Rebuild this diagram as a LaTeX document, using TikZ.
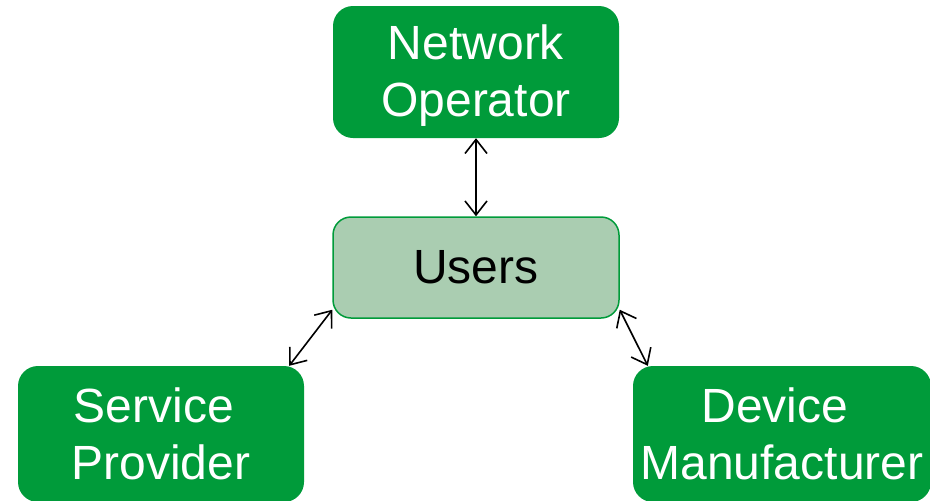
\documentclass[tikz,border=0pt]{standalone}
\usepackage{fontspec}
\setmainfont{Liberation Sans}
\usetikzlibrary{arrows.meta}
\definecolor{boxgreen}{HTML}{009B3A}
\definecolor{userfill}{HTML}{AACDB1}
\begin{document}
\begin{tikzpicture}[x=1pt,y=-1pt,
  party/.style={rectangle, rounded corners=20pt, fill=boxgreen, draw=none,
    text=white, align=center, inner sep=0pt,
    font=\fontsize{48}{57}\selectfont},
  userbox/.style={rectangle, rounded corners=18pt, fill=userfill, draw=boxgreen,
    line width=1.5pt, text=black, align=center, inner sep=0pt,
    font=\fontsize{48}{57}\selectfont},
  link/.style={{Straight Barb[length=14pt,width=22pt]}-{Straight Barb[length=14pt,width=22pt]},
    line width=1.6pt, black}]
  \useasboundingbox (0,0) rectangle (930,501);
  \clip (0,0) rectangle (930,501);

  \node[party, minimum width=286pt, minimum height=132pt, text depth=2pt] (op) at (476,72) {Network\\Operator};
  \node[userbox, minimum width=286pt, minimum height=101pt] (users) at (476,267.5) {Users};
  \node[party, minimum width=286pt, minimum height=136pt, text depth=-3pt] (sp) at (161,434) {Service\hspace*{0.3em}\\Provider};
  \node[party, minimum width=298pt, minimum height=136pt, text depth=-3pt] (dm) at (782,434) {Device\hspace*{0.3em}\\Manufacturer};

  \draw[link] (op.south) -- (users.north);
  \draw[link] ([xshift=-15pt]sp.north east) -- ([yshift=9pt]users.south west);
  \draw[link] ([yshift=9pt]users.south east) -- ([xshift=15pt]dm.north west);
\end{tikzpicture}
\end{document}
